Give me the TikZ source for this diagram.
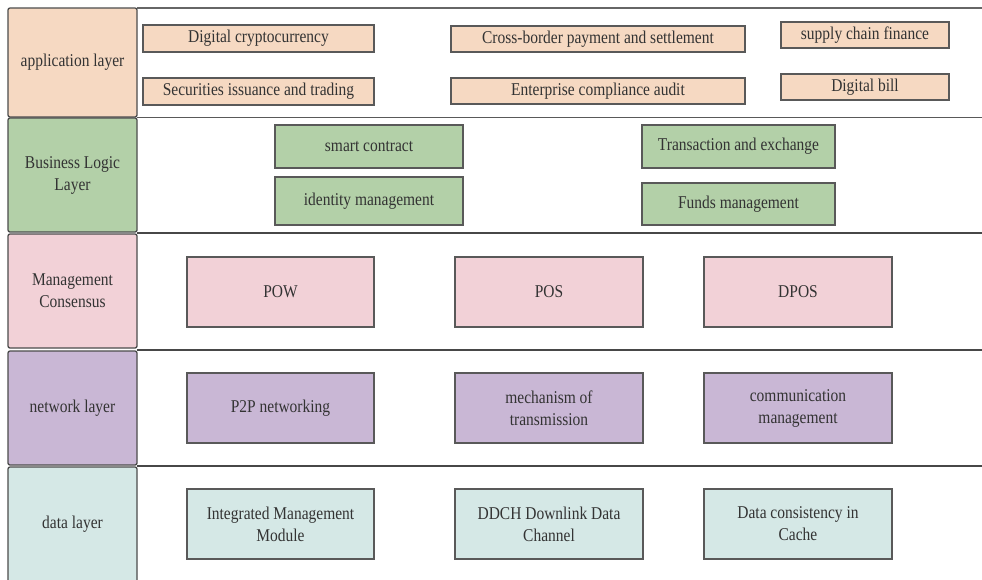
\documentclass[tikz,border=0pt]{standalone}
\usepackage{fontspec}
\setmainfont[FakeStretch=0.86]{Liberation Serif}
\begin{document}
\begin{tikzpicture}[x=1pt,y=-1pt,
  every node/.style={font=\fontsize{18}{22}\selectfont, text=black!80, align=center, inner sep=0pt},
  lbl/.style={draw=black!70, line width=1.3pt, rounded corners=2pt},
  item/.style={draw=black!65, line width=1.2pt},
  sep/.style={draw=black!72, line width=2pt},
  appc/.style={fill=appcol}, busc/.style={fill=buscol}, conc/.style={fill=concol},
  netc/.style={fill=netcol}, datc/.style={fill=datcol}]
\definecolor{appcol}{HTML}{F6D9C2}
\definecolor{buscol}{HTML}{B3D0A8}
\definecolor{concol}{HTML}{F2D1D7}
\definecolor{netcol}{HTML}{C9B7D5}
\definecolor{datcol}{HTML}{D5E8E6}
\useasboundingbox (0,0) rectangle (982,579);
\fill[white] (0,0) rectangle (982,579);
% separators
\coordinate (t0) at (137,8); \coordinate (t1) at (982,8);
\coordinate (s1a) at (137,117.5); \coordinate (s1b) at (982,117.5);
\coordinate (s2a) at (137,232.5); \coordinate (s2b) at (982,232.5);
\coordinate (s3a) at (137,349.5); \coordinate (s3b) at (982,349.5);
\coordinate (s4a) at (137,466); \coordinate (s4b) at (982,466);
\draw[draw=black!60, line width=1.3pt] (t0) -- (t1);
\draw[draw=black!65, line width=1.5pt] (s1a) -- (s1b);
\draw[sep] (s2a) -- (s2b);
\draw[sep] (s3a) -- (s3b);
\draw[sep] (s4a) -- (s4b);
% left labels
\node[lbl, appc, minimum width=129, minimum height=109] (Lapp) at (72.5,62.5) {application layer};
\node[lbl, busc, minimum width=129, minimum height=114] (Lbus) at (72.5,175) {Business Logic\\Layer};
\node[lbl, conc, minimum width=129, minimum height=114] (Lcon) at (72.5,291) {Management\\Consensus};
\node[lbl, netc, minimum width=129, minimum height=114] (Lnet) at (72.5,408) {network layer};
\draw[lbl, datc] (8,586) -- (8,467) -- (137,467) -- (137,586);
\node (Ldat) at (72.5,524) {data layer};
% application layer
\node[item, appc, minimum width=231, minimum height=27] (a1) at (258.5,38.5) {Digital cryptocurrency};
\node[item, appc, minimum width=231, minimum height=27] (a2) at (258.5,91.5) {Securities issuance and trading};
\node[item, appc, minimum width=294, minimum height=26] (a3) at (598,39) {Cross-border payment and settlement};
\node[item, appc, minimum width=294, minimum height=26] (a4) at (598,91) {Enterprise compliance audit};
\node[item, appc, minimum width=168, minimum height=26] (a5) at (865,35) {supply chain finance};
\node[item, appc, minimum width=168, minimum height=26] (a6) at (865,87) {Digital bill};
% business logic
\node[item, busc, minimum width=188, minimum height=43] (b1) at (369,146.5) {smart contract};
\node[item, busc, minimum width=188, minimum height=48] (b2) at (369,201) {identity management};
\node[item, busc, minimum width=193, minimum height=43] (b3) at (738.5,146.5) {Transaction and exchange};
\node[item, busc, minimum width=193, minimum height=42] (b4) at (738.5,204) {Funds management};
% consensus
\node[item, conc, minimum width=187, minimum height=70] (c1) at (280.5,292) {POW};
\node[item, conc, minimum width=188, minimum height=70] (c2) at (549,292) {POS};
\node[item, conc, minimum width=188, minimum height=70] (c3) at (798,292) {DPOS};
% network
\node[item, netc, minimum width=187, minimum height=70] (n1) at (280.5,408) {P2P networking};
\node[item, netc, minimum width=188, minimum height=70] (n2) at (549,408) {mechanism of\\transmission};
\node[item, netc, minimum width=188, minimum height=70] (n3) at (798,408) {communication\\management};
% data
\node[item, datc, minimum width=187, minimum height=70] (d1) at (280.5,524) {Integrated Management\\Module};
\node[item, datc, minimum width=188, minimum height=70] (d2) at (549,524) {DDCH Downlink Data\\Channel};
\node[item, datc, minimum width=188, minimum height=70] (d3) at (798,524) {Data consistency in\\Cache};
\end{tikzpicture}
\end{document}
